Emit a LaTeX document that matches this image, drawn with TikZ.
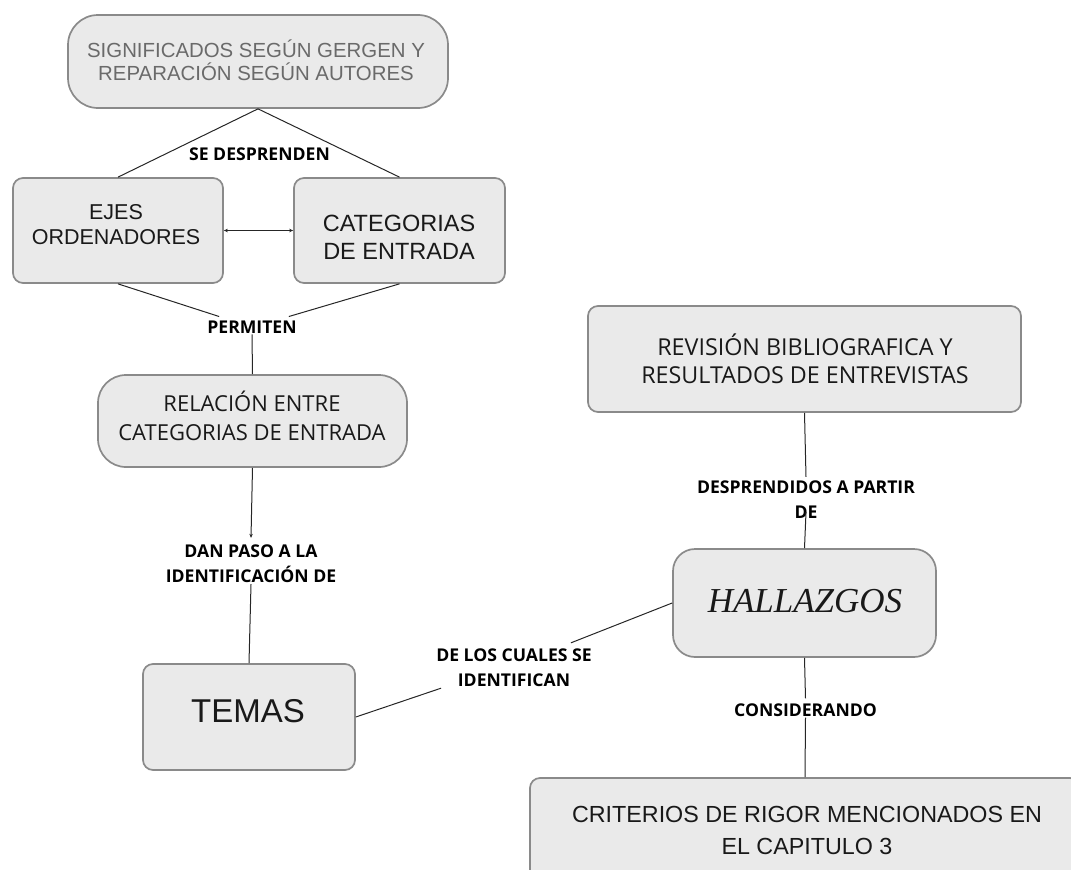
\documentclass[tikz,border=0pt]{standalone}
\usepackage{fontspec}
\setmainfont{Liberation Sans}
\newfontfamily\osfont{Open Sans}
\newfontfamily\serfont{Liberation Serif}
\usetikzlibrary{arrows.meta}

\definecolor{boxfill}{HTML}{EAEAEA}
\definecolor{boxline}{HTML}{8A8A8A}
\definecolor{greytext}{HTML}{6A6A6A}

\tikzset{
  box/.style={draw=boxline, fill=boxfill, line width=1.7pt, rounded corners=10pt, inner sep=0pt},
  pill/.style={box, rounded corners=28pt},
  txt/.style={align=center, inner sep=0pt, text=black!90},
  lbl/.style={font=\osfont\bfseries\fontsize{17.6}{25}\selectfont, align=center, inner sep=1pt},
  link/.style={draw=black!85, line width=1pt},
}

\begin{document}
\begin{tikzpicture}[x=1pt,y=-1pt]
    \useasboundingbox (0,0) rectangle (1071,870);
    \clip (0,0) rectangle (1071,870);

    % cajas
    \node[pill, minimum width=380, minimum height=93, rounded corners=30pt] (sig) at (258,61.5) {};
    \node[box, minimum width=210, minimum height=105] (ejes) at (118,230.5) {};
    \node[box, minimum width=211, minimum height=105] (cat) at (399.5,230.5) {};
    \node[pill, minimum width=309, minimum height=92] (rel) at (252.5,421) {};
    \node[box, minimum width=212, minimum height=106] (temas) at (249,717) {};
    \node[box, minimum width=433, minimum height=106] (rev) at (804.5,359) {};
    \node[box, minimum width=263, minimum height=108, rounded corners=22pt] (hal) at (804.5,603) {};
    \node[box, minimum width=550, minimum height=130] (crit) at (805,843) {};

    % textos de las cajas
    \node[txt, text=greytext, font=\fontsize{20.4}{23}\selectfont] (sigtxt) at (256,60)
         {SIGNIFICADOS SEGÚN GERGEN Y\\REPARACIÓN SEGÚN AUTORES};
    \node[txt, font=\fontsize{21.5}{25}\selectfont] (ejestxt) at (116,225) {EJES\\ORDENADORES};
    \node[txt, font=\fontsize{23.5}{28}\selectfont] (cattxt) at (399,237) {CATEGORIAS\\DE ENTRADA};
    \node[txt, font=\osfont\fontsize{22}{29}\selectfont] (reltxt) at (252,416)
         {RELACIÓN ENTRE\\CATEGORIAS DE ENTRADA};
    \node[txt, font=\fontsize{33}{36}\selectfont] (temastxt) at (248,711) {TEMAS};
    \node[txt, font=\osfont\fontsize{23.3}{28}\selectfont] (revtxt) at (805,359)
         {REVISIÓN BIBLIOGRAFICA Y\\RESULTADOS DE ENTREVISTAS};
    \node[txt, font=\serfont\itshape\fontsize{35}{40}\selectfont] (haltxt) at (805,601) {HALLAZGOS};
    \node[txt, font=\fontsize{23.3}{32}\selectfont] (crittxt) at (807,830)
         {CRITERIOS DE RIGOR MENCIONADOS EN\\EL CAPITULO 3};

    % etiquetas
    \node[lbl] (desp) at (259.5,154) {SE DESPRENDEN};
    \node[lbl] (perm) at (252,327) {PERMITEN};
    \node[lbl] (danp) at (251,564) {DAN PASO A LA\\IDENTIFICACIÓN DE};
    \node[lbl] (decual) at (514,668) {DE LOS CUALES SE\\IDENTIFICAN};
    \node[lbl] (despr) at (806,500) {DESPRENDIDOS A PARTIR\\DE};
    \node[lbl] (consid) at (805.5,710) {CONSIDERANDO};

    % conectores
    \draw[link] (ejes.north) -- (sig.south) -- (cat.north);
    \draw[link, {Stealth[length=4pt,width=3.5pt]}-{Stealth[length=4pt,width=3.5pt]}] (ejes.east) -- (cat.west);
    \draw[link] (ejes.south) -- ([xshift=13pt,yshift=3pt]perm.north west);
    \draw[link] (cat.south) -- ([xshift=-9pt,yshift=3pt]perm.north east);
    \draw[link] (perm.south) -- (rel.north);
    \draw[link, -{Stealth[length=4pt,width=3.5pt]}] (rel.south) -- ([yshift=6pt]danp.north);
    \draw[link] (danp.south) -- (temas.north);
    \draw[link] (temas.east) -- ([xshift=6pt]decual.south west);
    \draw[link] ([xshift=-22pt,yshift=5pt]decual.north east) -- (hal.west);
    \draw[link] (rev.south) -- ([yshift=3pt]despr.north);
    \draw[link] ([yshift=8pt]despr.south) -- (hal.north);
    \draw[link] (hal.south) -- ([yshift=4pt]consid.north);
    \draw[link] (consid.south) -- (crit.north);
\end{tikzpicture}
\end{document}
